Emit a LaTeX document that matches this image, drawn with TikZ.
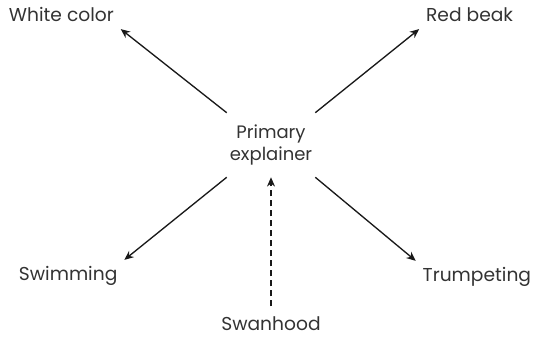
\documentclass[tikz,border=0pt]{standalone}
\usepackage{fontspec}
\setmainfont{Poppins}
\usetikzlibrary{arrows.meta}

\begin{document}
\begin{tikzpicture}[
    x=0.75pt, y=-0.75pt,
    trait/.style={inner sep=5pt, text=black!80, font=\fontsize{14}{16}\selectfont},
    core/.style={minimum width=66pt, minimum height=48pt, inner sep=0pt, align=center, text=black!80, font=\fontsize{13.5}{16.5}\selectfont},
    link/.style={draw=black!90, line width=1pt, -{Stealth[length=7pt, width=6pt]}},
    cause/.style={link, dashed, dash pattern=on 4.5pt off 3pt, line width=0.8pt}
]
    \useasboundingbox (0,0) rectangle (533,338);

    % --- Explainer ---
    \node [core] (core) at (271,145) {Primary\\explainer};

    % --- Observed traits ---
    \node [trait, anchor=base west] (white) at (2,22) {White color};
    \node [trait, anchor=base east] (beak) at (520,22) {Red beak};
    \node [trait, anchor=base west] (swim) at (12,281) {Swimming};
    \node [trait, anchor=base east] (trumpet) at (538,282) {Trumpeting};

    % --- Cause ---
    \node [trait, inner sep=1pt, anchor=base] (swan) at (271,331) {Swanhood};

    % --- Connections ---
    \path [link] (core.north west) -- (white.south east);
    \path [link] (core.north east) -- (beak.south west);
    \path [link] (core.south west) -- (swim.north east);
    \path [link] (core.south east) -- (trumpet.north west);
    \path [cause, shorten <=7pt] (swan) -- (core.south);

\end{tikzpicture}
\end{document}
